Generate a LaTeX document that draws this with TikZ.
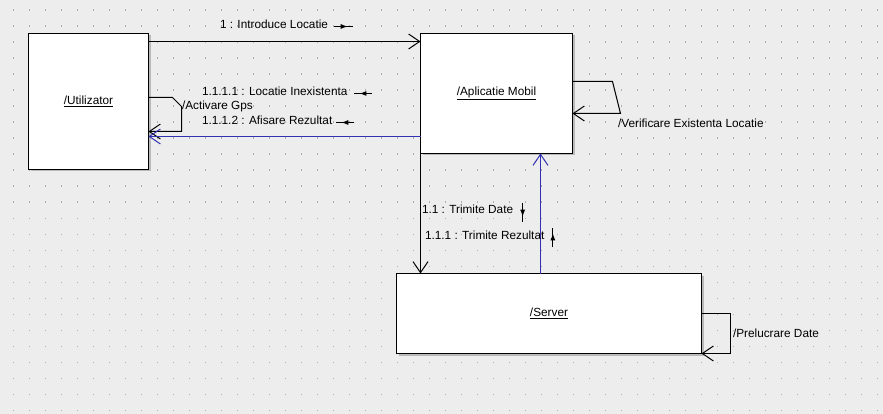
\documentclass[tikz,border=0pt]{standalone}
\usepackage{fontspec}
\setmainfont{Liberation Sans}
\usetikzlibrary{arrows.meta,calc,decorations.markings,shadows}
\definecolor{bgc}{RGB}{237,237,237}
\definecolor{dotc}{RGB}{175,175,175}
\definecolor{shc}{RGB}{185,185,185}
\definecolor{bluec}{RGB}{48,48,176}
\begin{document}
\begin{tikzpicture}[x=1pt,y=-1pt,
  font=\fontsize{11.8}{14}\selectfont,
  box/.style={draw=black, fill=white, line width=1pt, inner sep=0pt, outer sep=0pt,
    drop shadow={shadow xshift=2pt, shadow yshift=-2pt, fill=shc, opacity=1}},
  conn/.style={line width=1pt, -{Straight Barb[length=11pt,width=15pt,line width=1pt]}},
  bconn/.style={conn, draw=bluec},
  lbl/.style={anchor=base west, inner sep=0pt, outer sep=0pt},
  msg/.style={line width=1pt, postaction={decorate},
    decoration={markings, mark=at position 0.72 with {\arrow{Latex[length=7pt,width=5pt]}}}}
]
\fill[bgc] (0,0) rectangle (883,414);
\useasboundingbox (0,0) rectangle (883,414);
\foreach \i in {0,...,54}{\foreach \j in {0,...,25}{
  \fill[dotc] (12.5+16*\i,9.5+16*\j) rectangle ++(1.3,1.3);}}

\begin{scope}[shift={(0.5,0.5)}]
% boxes
\node[box, minimum width=120pt, minimum height=136pt] (util) at (88,101) {\underline{/Utilizator}};
\node[box, minimum width=152pt, minimum height=120pt] (app) at (496,93) {\underline{/Aplicatie Mobil}};
\node[box, minimum width=305pt, minimum height=80pt] (srv) at (548.5,313) {\underline{/Server}};

% connector ends
\coordinate (s1) at ($(srv.north west)+(144,0)$);

% connectors
\draw[conn] ($(util.north east)+(0,8)$) -- ($(app.north west)+(0,8)$);
\draw[conn] ($(util.north east)+(0,64)$) -- ++(24,0) -- ++(9,9) -- ++(0,25) -- ($(util.north east)+(0,98)$);
\draw[bconn] ($(app.north west)+(0,103)$) -- ($(util.north east)+(0,103)$);
\draw[conn] ($(app.north east)+(0,48)$) -- ++(40,0) -- ++(8,32) -- ($(app.north east)+(0,80)$);
\draw[conn] (app.south west) -- (app.south west |- srv.north);
\draw[bconn] (s1) -- (s1 |- app.south);
\draw[conn] ($(srv.north east)+(0,40)$) -- ++(29,0) -- ++(0,40) -- (srv.south east);
\end{scope}

% labels
\node[lbl] (L1) at (220,29) {1 : Introduce Locatie};
\node[lbl] (L2) at (202,96) {1.1.1.1 : Locatie Inexistenta};
\node[lbl] (L3) at (182,110) {/Activare Gps};
\node[lbl] (L4) at (202,125) {1.1.1.2 : Afisare Rezultat};
\node[lbl] (L5) at (618,128) {/Verificare Existenta Locatie};
\node[lbl] (L6) at (422,214) {1.1 : Trimite Date};
\node[lbl] (L7) at (425,239) {1.1.1 : Trimite Rezultat};
\node[lbl] (L8) at (733,337) {/Prelucrare Date};

% message direction marks
\draw[msg] ($(L1.base east)+(6,-2.5)$) -- ++(19,0);
\draw[msg] ($(L2.base east)+(25,-2.5)$) -- ++(-18,0);
\draw[msg] ($(L4.base east)+(22,-2.5)$) -- ++(-18,0);
\draw[msg] ($(L6.base east)+(9.5,-11)$) -- ++(0,19);
\draw[msg] ($(L7.base east)+(8.5,8)$) -- ++(0,-19);
\end{tikzpicture}
\end{document}
